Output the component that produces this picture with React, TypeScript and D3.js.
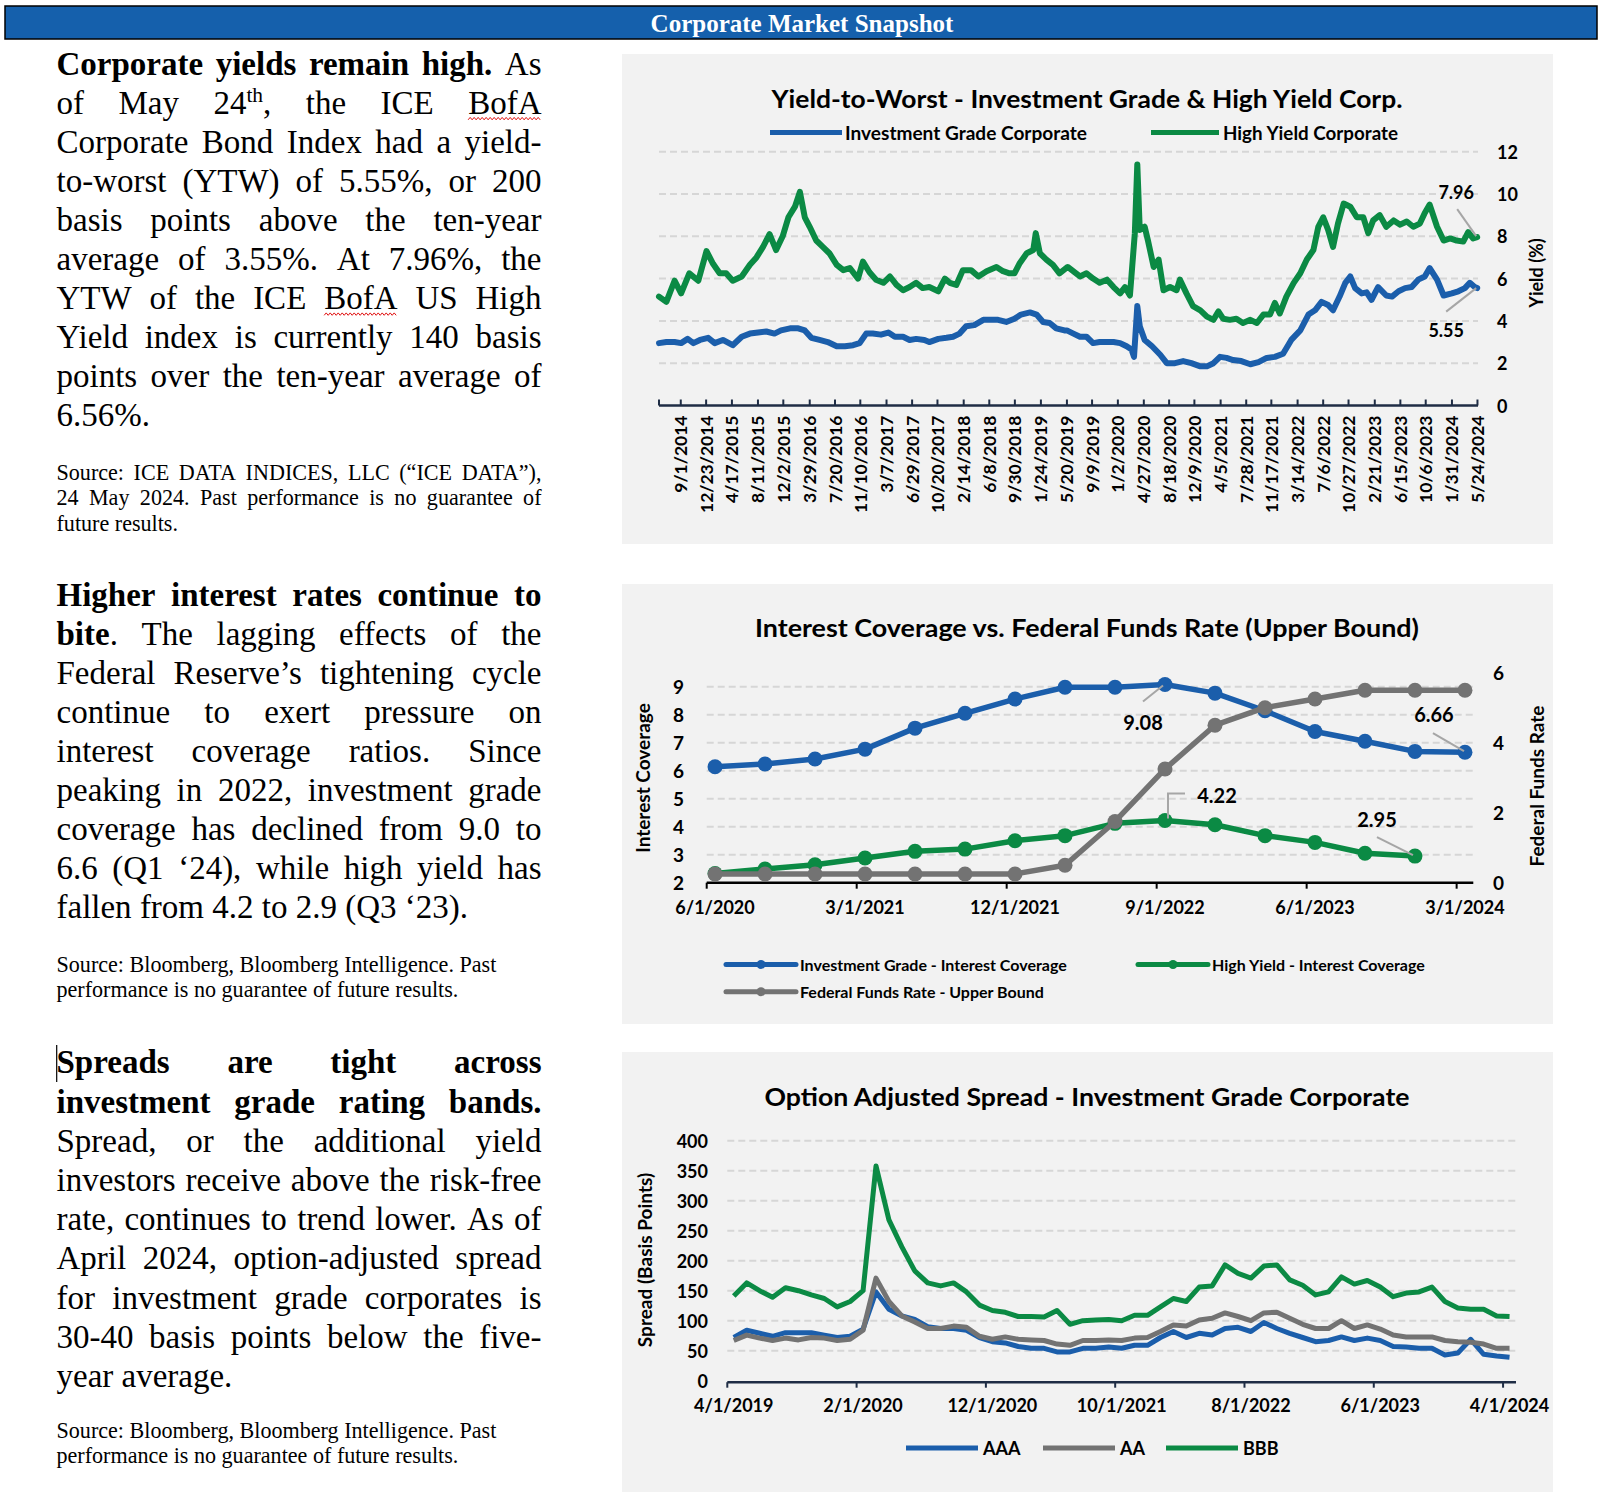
import React, { useEffect, useRef } from 'react';
import * as d3 from 'd3';

const WIDTH = 1600;
const HEIGHT = 1494;

const BLUE = '#1B5EAB';
const GREEN = '#0B8A44';
const GRAY = '#737373';
const GRID = '#D6D6D6';
const AXIS = '#1F2D45';
const PANEL = '#F2F2F2';
const LEADER = '#A6A6A6';
const SANS = 'Lato, "Open Sans", sans-serif';
const SERIF = '"Liberation Serif", "Times New Roman", serif';

// ---------- chart 1 : yield-to-worst (decimal years / percent)
const ytwTickLabels = ['9/1/2014', '12/23/2014', '4/17/2015', '8/11/2015', '12/2/2015', '3/29/2016', '7/20/2016', '11/10/2016', '3/7/2017', '6/29/2017', '10/20/2017', '2/14/2018', '6/8/2018', '9/30/2018', '1/24/2019', '5/20/2019', '9/9/2019', '1/2/2020', '4/27/2020', '8/18/2020', '12/9/2020', '4/5/2021', '7/28/2021', '11/17/2021', '3/14/2022', '7/6/2022', '10/27/2022', '2/21/2023', '6/15/2023', '10/6/2023', '1/31/2024', '5/24/2024'];
const ytwYTicks = [0, 2, 4, 6, 8, 10, 12];

const hyTime = [2014.40, 2014.49, 2014.59, 2014.67, 2014.77, 2014.88, 2014.98, 2015.06, 2015.14, 2015.22, 2015.30, 2015.41, 2015.51, 2015.59, 2015.67, 2015.75, 2015.83, 2015.91, 2015.98, 2016.06, 2016.12, 2016.18, 2016.24, 2016.32, 2016.40, 2016.48, 2016.57, 2016.65, 2016.73, 2016.83, 2016.89, 2016.97, 2017.05, 2017.14, 2017.22, 2017.30, 2017.38, 2017.46, 2017.54, 2017.62, 2017.70, 2017.81, 2017.89, 2017.95, 2018.03, 2018.11, 2018.21, 2018.30, 2018.40, 2018.52, 2018.60, 2018.68, 2018.74, 2018.80, 2018.89, 2018.97, 2019.00, 2019.05, 2019.13, 2019.21, 2019.29, 2019.39,
  2019.54, 2019.62, 2019.70, 2019.78, 2019.87, 2019.95, 2020.03, 2020.09, 2020.15, 2020.21, 2020.24, 2020.27, 2020.33, 2020.37, 2020.44, 2020.50, 2020.56, 2020.64, 2020.72, 2020.76, 2020.84, 2020.92, 2021.01, 2021.09, 2021.17, 2021.23, 2021.29, 2021.37, 2021.45, 2021.53, 2021.62, 2021.70, 2021.78, 2021.86, 2021.92, 2021.98, 2022.06, 2022.15, 2022.23, 2022.31, 2022.39, 2022.45, 2022.51, 2022.57, 2022.63, 2022.69, 2022.76, 2022.84, 2022.92, 2023.00, 2023.06, 2023.12, 2023.20, 2023.28, 2023.37, 2023.45, 2023.53, 2023.61, 2023.69, 2023.75, 2023.81, 2023.90, 2023.98, 2024.06, 2024.14, 2024.22, 2024.28, 2024.34, 2024.39];
const hyYield = [5.15, 4.9, 5.9, 5.3, 6.25, 5.9, 7.3, 6.7, 6.25, 6.25, 5.9, 6.1, 6.65, 7.0, 7.5, 8.1, 7.35, 8.0, 8.9, 9.4, 10.1, 8.9, 8.45, 7.8, 7.5, 7.2, 6.65, 6.4, 6.5, 6.0, 6.8, 6.3, 5.95, 5.8, 6.1, 5.7, 5.45, 5.6, 5.8, 5.55, 5.6, 5.4, 6.0, 5.8, 5.7, 6.4, 6.4, 6.1, 6.35, 6.55, 6.35, 6.25, 6.25, 6.7, 7.2, 7.35, 8.15, 7.2, 6.9, 6.65, 6.25, 6.55,
  6.1, 6.25, 6.0, 5.8, 5.95, 5.6, 5.3, 5.6, 5.2, 8.15, 11.4, 8.3, 8.45, 7.8, 6.55, 6.9, 5.45, 5.6, 5.45, 5.95, 5.3, 4.7, 4.5, 4.2, 4.05, 4.45, 4.1, 4.05, 4.1, 3.9, 4.05, 3.9, 4.3, 4.3, 4.85, 4.35, 5.15, 5.8, 6.25, 6.9, 7.35, 8.45, 8.9, 8.3, 7.5, 8.6, 9.55, 9.4, 8.9, 8.9, 8.15, 8.75, 9.0, 8.45, 8.75, 8.55, 8.7, 8.45, 8.6, 9.1, 9.5, 8.45, 7.8, 7.9, 7.8, 7.75, 8.2, 7.9, 7.96];

const igTime = [2014.40, 2014.49, 2014.59, 2014.67, 2014.75, 2014.82, 2014.90, 2015.00, 2015.08, 2015.18, 2015.30, 2015.41, 2015.51, 2015.61, 2015.71, 2015.81, 2015.89, 2016.00, 2016.10, 2016.18, 2016.26, 2016.36, 2016.46, 2016.57, 2016.67, 2016.77, 2016.85, 2016.93, 2017.01, 2017.11, 2017.20, 2017.28, 2017.38, 2017.46, 2017.54, 2017.64, 2017.70, 2017.81, 2017.91, 2017.99, 2018.07, 2018.15, 2018.25, 2018.36, 2018.44, 2018.54, 2018.64, 2018.74, 2018.82, 2018.93, 2019.01, 2019.09, 2019.17, 2019.25, 2019.35,
  2019.38, 2019.46, 2019.54, 2019.62, 2019.70, 2019.78, 2019.87, 2019.95, 2020.03, 2020.11, 2020.17, 2020.20, 2020.24, 2020.27, 2020.33, 2020.42, 2020.52, 2020.60, 2020.70, 2020.80, 2020.90, 2021.01, 2021.09, 2021.17, 2021.25, 2021.33, 2021.41, 2021.51, 2021.62, 2021.72, 2021.82, 2021.92, 2022.02, 2022.12, 2022.23, 2022.33, 2022.41, 2022.49, 2022.57, 2022.63, 2022.71, 2022.78, 2022.84, 2022.90, 2022.98, 2023.04, 2023.10, 2023.18, 2023.28, 2023.35, 2023.43, 2023.51, 2023.59, 2023.67, 2023.75, 2023.81, 2023.90, 2023.98, 2024.08, 2024.16, 2024.24, 2024.30, 2024.36, 2024.39];
const igYield = [2.95, 3.0, 3.0, 2.95, 3.15, 2.95, 3.1, 3.2, 2.95, 3.1, 2.85, 3.25, 3.4, 3.45, 3.5, 3.4, 3.55, 3.65, 3.65, 3.55, 3.2, 3.1, 3.0, 2.8, 2.8, 2.85, 2.95, 3.4, 3.4, 3.35, 3.45, 3.25, 3.25, 3.1, 3.15, 3.1, 3.0, 3.15, 3.2, 3.25, 3.4, 3.75, 3.8, 4.05, 4.05, 4.05, 3.95, 4.1, 4.3, 4.4, 4.3, 3.95, 3.9, 3.65, 3.55,
  3.55, 3.4, 3.25, 3.25, 2.95, 3.0, 3.0, 3.0, 2.95, 2.8, 2.65, 2.3, 4.7, 3.75, 3.1, 2.8, 2.4, 2.0, 2.0, 2.1, 2.0, 1.85, 1.85, 2.0, 2.3, 2.25, 2.15, 2.1, 1.95, 2.05, 2.25, 2.3, 2.45, 3.1, 3.55, 4.3, 4.5, 4.9, 4.75, 4.5, 5.15, 5.8, 6.1, 5.55, 5.3, 5.35, 5.0, 5.6, 5.2, 5.15, 5.4, 5.55, 5.6, 5.95, 6.1, 6.5, 5.95, 5.2, 5.3, 5.4, 5.55, 5.8, 5.6, 5.55];

// ---------- chart 2 : interest coverage vs fed funds (quarterly)
const coverageQuarters = ['2020-06', '2020-09', '2020-12', '2021-03', '2021-06', '2021-09', '2021-12', '2022-03', '2022-06', '2022-09', '2022-12', '2023-03', '2023-06', '2023-09', '2023-12', '2024-03'];
const igCoverage = [6.14, 6.24, 6.42, 6.77, 7.52, 8.05, 8.56, 8.98, 8.98, 9.08, 8.77, 8.14, 7.40, 7.05, 6.69, 6.66];
const hyCoverage = [2.33, 2.49, 2.64, 2.88, 3.12, 3.20, 3.50, 3.68, 4.12, 4.22, 4.07, 3.68, 3.44, 3.05, 2.95];
const fedFundsUpper = [0.25, 0.25, 0.25, 0.25, 0.25, 0.25, 0.25, 0.5, 1.75, 3.25, 4.5, 5.0, 5.25, 5.5, 5.5, 5.5];
const coverageTickLabels = ['6/1/2020', '3/1/2021', '12/1/2021', '9/1/2022', '6/1/2023', '3/1/2024'];
const coverageLeftTicks = [2, 3, 4, 5, 6, 7, 8, 9];
const coverageRightTicks = [0, 2, 4, 6];

// ---------- chart 3 : option adjusted spread (monthly, Apr 2019 - Apr 2024)
const oasStart = '2019-04';
const aaaSpread = [72, 84, 79, 74, 80, 80, 80, 76, 72, 74, 86, 148, 119, 108, 102, 90, 87, 87, 84, 72, 65, 63, 57, 54, 54, 48, 48, 54, 54, 56, 54, 59, 59, 72, 82, 72, 79, 76, 87, 89, 82, 97, 87, 79, 72, 65, 67, 73, 67, 71, 67, 57, 56, 54, 54, 43, 46, 69, 44, 41, 39];
const aaSpread = [67, 76, 71, 67, 71, 68, 72, 71, 67, 69, 84, 171, 132, 108, 98, 87, 87, 91, 89, 74, 69, 73, 69, 68, 67, 61, 59, 67, 67, 68, 67, 71, 72, 82, 93, 91, 101, 104, 113, 107, 100, 113, 114, 104, 94, 87, 87, 100, 87, 93, 86, 76, 73, 73, 73, 67, 65, 64, 61, 54, 54];
const bbbSpread = [141, 163, 150, 139, 155, 150, 143, 137, 123, 132, 150, 358, 268, 223, 183, 163, 158, 163, 148, 126, 117, 114, 107, 107, 106, 117, 94, 100, 101, 102, 100, 109, 109, 123, 137, 132, 156, 158, 193, 179, 171, 191, 193, 168, 159, 143, 148, 173, 161, 167, 156, 140, 146, 148, 156, 132, 121, 119, 119, 108, 107];
const oasTickLabels = ['4/1/2019', '2/1/2020', '12/1/2020', '10/1/2021', '8/1/2022', '6/1/2023', '4/1/2024'];
const oasYTicks = [0, 50, 100, 150, 200, 250, 300, 350, 400];

// ---------- text column
const p1Lines = [
  '**Corporate yields remain high.** As',
  'of May 24^th^, the ICE ~BofA~',
  'Corporate Bond Index had a yield-',
  'to-worst (YTW) of 5.55%, or 200',
  'basis points above the ten-year',
  'average of 3.55%. At 7.96%, the',
  'YTW of the ICE ~BofA~ US High',
  'Yield index is currently 140 basis',
  'points over the ten-year average of',
  '6.56%.',
];
const s1Lines = [
  'Source: ICE DATA INDICES, LLC (“ICE DATA”),',
  '24 May 2024. Past performance is no guarantee of',
  'future results.',
];
const p2Lines = [
  '**Higher interest rates continue to**',
  '**bite**. The lagging effects of the',
  'Federal Reserve’s tightening cycle',
  'continue to exert pressure on',
  'interest coverage ratios. Since',
  'peaking in 2022, investment grade',
  'coverage has declined from 9.0 to',
  '6.6 (Q1 ‘24), while high yield has',
  'fallen from 4.2 to 2.9 (Q3 ‘23).',
];
const s2Lines = [
  'Source: Bloomberg, Bloomberg Intelligence. Past',
  'performance is no guarantee of future results.',
];
const p3Lines = [
  '**Spreads are tight across**',
  '**investment grade rating bands.**',
  'Spread, or the additional yield',
  'investors receive above the risk-free',
  'rate, continues to trend lower. As of',
  'April 2024, option-adjusted spread',
  'for investment grade corporates is',
  '30-40 basis points below the five-',
  'year average.',
];
const s3Lines = s2Lines;

const textBlocks = [
  { lines: p1Lines, y: 74.5, lh: 39.1, size: 33, justify: true },
  { lines: s1Lines, y: 480, lh: 25.3, size: 22.1, justify: true },
  { lines: p2Lines, y: 606, lh: 39.05, size: 33, justify: true },
  { lines: s2Lines, y: 971.7, lh: 25, size: 22.1, justify: false },
  { lines: p3Lines, y: 1073.3, lh: 39.2, size: 33, justify: true },
  { lines: s3Lines, y: 1438.3, lh: 25, size: 22.1, justify: false },
];
const TEXT_X = 56.5;
const TEXT_W = 485;

type Seg = { text: string; bold: boolean; sup: boolean };
type Word = { segs: Seg[]; spell: boolean };

function parseLine(line: string): Word[] {
  const words: Word[] = [];
  let bold = false;
  let sup = false;
  let cur: Word = { segs: [], spell: false };
  let buf = '';
  const flush = () => {
    if (buf) { cur.segs.push({ text: buf, bold, sup }); buf = ''; }
  };
  const endWord = () => {
    flush();
    if (cur.segs.length) words.push(cur);
    cur = { segs: [], spell: false };
  };
  for (let i = 0; i < line.length; i++) {
    const c = line[i];
    if (c === '*' && line[i + 1] === '*') { flush(); bold = !bold; i++; continue; }
    if (c === '^') { flush(); sup = !sup; continue; }
    if (c === '~') { cur.spell = true; continue; }
    if (c === ' ') { endWord(); continue; }
    buf += c;
  }
  endWord();
  return words;
}

function decYear(label: string) {
  const [m, d, y] = label.split('/').map(Number);
  const s = Date.UTC(y, 0, 1);
  const e = Date.UTC(y + 1, 0, 1);
  return y + (Date.UTC(y, m - 1, d) - s) / (e - s);
}

function monthIdx(key: string, base: string) {
  const [y, m] = key.split('-').map(Number);
  const [by, bm] = base.split('-').map(Number);
  return (y - by) * 12 + (m - bm);
}

function labelMonth(label: string, base: string) {
  const [m, , y] = label.split('/').map(Number);
  return (y - Number(base.split('-')[0])) * 12 + (m - Number(base.split('-')[1]));
}

const App: React.FC = () => {
  const textRef = useRef<SVGGElement>(null);

  useEffect(() => {
    const draw = () => {
      if (!textRef.current) return;
      const g = d3.select(textRef.current);
      g.selectAll('*').remove();
      textBlocks.forEach(block => {
        block.lines.forEach((line, li) => {
          const y = block.y + li * block.lh;
          const words = parseLine(line);
          const placed = words.map(w => {
            const t = g.append('text')
              .attr('y', y)
              .attr('font-family', SERIF)
              .attr('font-size', block.size)
              .attr('fill', '#000');
            let raised = false;
            w.segs.forEach(s => {
              const ts = t.append('tspan').text(s.text).attr('font-weight', s.bold ? 'bold' : 'normal');
              if (s.sup) ts.attr('font-size', block.size * 0.65);
              if (s.sup && !raised) { ts.attr('dy', -block.size * 0.36); raised = true; }
              else if (!s.sup && raised) { ts.attr('dy', block.size * 0.36); raised = false; }
            });
            const width = (t.node() as SVGTextElement).getComputedTextLength();
            return { t, w, width };
          });
          const total = d3.sum(placed, p => p.width);
          const isLast = li === block.lines.length - 1;
          const gap = block.justify && !isLast && placed.length > 1
            ? (TEXT_W - total) / (placed.length - 1)
            : block.size * 0.25;
          let x = TEXT_X;
          placed.forEach(p => {
            p.t.attr('x', x);
            if (p.w.spell) {
              const pts: [number, number][] = [];
              for (let k = 0; k <= p.width; k += 2) pts.push([x + k, y + 5 + ((k / 2) % 2 ? -1.2 : 1.2)]);
              g.append('path')
                .attr('d', d3.line()(pts) || '')
                .attr('fill', 'none')
                .attr('stroke', '#E01010')
                .attr('stroke-width', 1);
            }
            x += p.width + gap;
          });
        });
      });
    };
    draw();
    const fonts = (document as any).fonts;
    if (fonts && fonts.ready) fonts.ready.then(draw);
  }, []);

  // chart 1 scales
  const x1 = d3.scaleLinear().domain([2014.40, 2024.40]).range([659, 1478]);
  const y1 = d3.scaleLinear().domain([0, 12]).range([405.5, 151.7]);
  const line1 = d3.line<[number, number]>().x(d => x1(d[0])).y(d => y1(d[1]));
  const hyPts = hyTime.map((t, i) => [t, hyYield[i]] as [number, number]);
  const igPts = igTime.map((t, i) => [t, igYield[i]] as [number, number]);
  const hyEnd = { x: x1(hyTime[hyTime.length - 1]), y: y1(hyYield[hyYield.length - 1]) };
  const igEnd = { x: x1(igTime[igTime.length - 1]), y: y1(igYield[igYield.length - 1]) };

  // chart 2 scales
  const x2 = d3.scaleLinear().domain([0, 46]).range([706.7, 1473.3]);
  const yL = d3.scaleLinear().domain([2, 9.5]).range([882.7, 672.7]);
  const yR = d3.scaleLinear().domain([0, 6]).range([882.7, 672.7]);
  const base2 = coverageQuarters[0];
  const qx = (i: number) => x2(monthIdx(coverageQuarters[i], base2) + 0.5);
  const lineL = d3.line<number>().x((_, i) => qx(i)).y(d => yL(d));
  const lineR = d3.line<number>().x((_, i) => qx(i)).y(d => yR(d));
  const igPeak = { x: qx(9), y: yL(igCoverage[9]) };
  const hyPeak = { x: qx(9), y: yL(hyCoverage[9]) };
  const hyLast = { x: qx(hyCoverage.length - 1), y: yL(hyCoverage[hyCoverage.length - 1]) };
  const igLast = { x: qx(igCoverage.length - 1), y: yL(igCoverage[igCoverage.length - 1]) };

  // chart 3 scales
  const x3 = d3.scaleLinear().domain([0, 61]).range([727.3, 1516]);
  const y3 = d3.scaleLinear().domain([0, 400]).range([1380.7, 1140.7]);
  const line3 = d3.line<number>().x((_, i) => x3(i + 0.5)).y(d => y3(d));

  const gridProps = { stroke: GRID, strokeWidth: 2, strokeDasharray: '7 4' };
  const tickFont = { fontFamily: SANS, fontWeight: 700, fill: '#000' } as const;

  return (
    <svg
      width={WIDTH}
      height={HEIGHT}
      viewBox={`0 0 ${WIDTH} ${HEIGHT}`}
      style={{ position: 'absolute', left: 0, top: 0, display: 'block', background: '#fff' }}
    >
      {/* header */}
      <rect x={5} y={6} width={1592} height={33} fill="#1560AC" stroke="#000" strokeWidth={1.5} />
      <text x={802} y={23} textAnchor="middle" dominantBaseline="central" fontFamily={SERIF} fontWeight="bold" fontSize={25} fill="#fff">
        Corporate Market Snapshot
      </text>

      {/* text column */}
      <g ref={textRef} />
      <line x1={56.7} x2={56.7} y1={1045} y2={1082} stroke="#000" strokeWidth={1.2} />

      {/* ---------------- chart 1 ---------------- */}
      <rect x={622} y={54} width={931} height={490} fill={PANEL} />
      <text x={1087} y={98} textAnchor="middle" dominantBaseline="central" fontFamily={SANS} fontWeight={700} fontSize={24} textLength={631} lengthAdjust="spacingAndGlyphs">
        Yield-to-Worst - Investment Grade &amp; High Yield Corp.
      </text>
      <line x1={770} x2={842} y1={132.6} y2={132.6} stroke={BLUE} strokeWidth={5} />
      <text x={845} y={132.6} dominantBaseline="central" {...tickFont} fontSize={18} textLength={242} lengthAdjust="spacingAndGlyphs">Investment Grade Corporate</text>
      <line x1={1151} x2={1219} y1={132.6} y2={132.6} stroke={GREEN} strokeWidth={5} />
      <text x={1223} y={132.6} dominantBaseline="central" {...tickFont} fontSize={18} textLength={175} lengthAdjust="spacingAndGlyphs">High Yield Corporate</text>

      {ytwYTicks.filter(v => v > 0).map(v => (
        <line key={v} x1={x1.range()[0]} x2={x1.range()[1]} y1={y1(v)} y2={y1(v)} {...gridProps} />
      ))}
      {ytwYTicks.map(v => (
        <text key={v} x={1497} y={y1(v)} dominantBaseline="central" {...tickFont} fontSize={18}>{v}</text>
      ))}
      <text transform={`translate(1536,273) rotate(-90)`} textAnchor="middle" dominantBaseline="central" {...tickFont} fontSize={18}>Yield (%)</text>

      <path d={line1(igPts) || ''} fill="none" stroke={BLUE} strokeWidth={6} strokeLinejoin="round" strokeLinecap="round" />
      <path d={line1(hyPts) || ''} fill="none" stroke={GREEN} strokeWidth={6} strokeLinejoin="round" strokeLinecap="round" />

      <line x1={x1.range()[0]} x2={x1.range()[1]} y1={y1(0)} y2={y1(0)} stroke={AXIS} strokeWidth={2.5} />
      <line x1={x1.range()[0]} x2={x1.range()[0]} y1={y1(0) - 6} y2={y1(0)} stroke={AXIS} strokeWidth={2} />
      {ytwTickLabels.map(l => {
        const x = x1(decYear(l));
        return (
          <g key={l}>
            <line x1={x} x2={x} y1={y1(0) - 6} y2={y1(0)} stroke={AXIS} strokeWidth={2} />
            <text transform={`translate(${x},${y1(0) + 10}) rotate(-90)`} textAnchor="end" dominantBaseline="central" {...tickFont} fontSize={17.5}>{l}</text>
          </g>
        );
      })}

      <line x1={hyEnd.x - 20} y1={hyEnd.y - 28} x2={hyEnd.x - 1} y2={hyEnd.y - 1} stroke={LEADER} strokeWidth={2} />
      <text x={hyEnd.x - 21} y={hyEnd.y - 45} textAnchor="middle" dominantBaseline="central" {...tickFont} fontSize={18}>{hyYield[hyYield.length - 1].toFixed(2)}</text>
      <line x1={igEnd.x - 31} y1={igEnd.y + 23.5} x2={igEnd.x - 1} y2={igEnd.y} stroke={LEADER} strokeWidth={2} />
      <text x={igEnd.x - 31} y={igEnd.y + 42} textAnchor="middle" dominantBaseline="central" {...tickFont} fontSize={18}>{igYield[igYield.length - 1].toFixed(2)}</text>

      {/* ---------------- chart 2 ---------------- */}
      <rect x={622} y={584} width={931} height={440} fill={PANEL} />
      <text x={1087} y={627.5} textAnchor="middle" dominantBaseline="central" fontFamily={SANS} fontWeight={700} fontSize={24} textLength={664} lengthAdjust="spacingAndGlyphs">
        Interest Coverage vs. Federal Funds Rate (Upper Bound)
      </text>
      {coverageLeftTicks.filter(v => v > 2).map(v => (
        <line key={v} x1={x2.range()[0]} x2={x2.range()[1]} y1={yL(v)} y2={yL(v)} {...gridProps} />
      ))}
      {coverageLeftTicks.map(v => (
        <text key={v} x={684} y={yL(v)} textAnchor="end" dominantBaseline="central" {...tickFont} fontSize={19}>{v}</text>
      ))}
      {coverageRightTicks.map(v => (
        <text key={v} x={1493} y={yR(v)} dominantBaseline="central" {...tickFont} fontSize={19}>{v}</text>
      ))}
      <text transform={`translate(642,778) rotate(-90)`} textAnchor="middle" dominantBaseline="central" {...tickFont} fontSize={19}>Interest Coverage</text>
      <text transform={`translate(1536,786) rotate(-90)`} textAnchor="middle" dominantBaseline="central" {...tickFont} fontSize={19}>Federal Funds Rate</text>

      <line x1={x2.range()[0]} x2={x2.range()[1]} y1={yL(2)} y2={yL(2)} stroke="#000" strokeWidth={2.5} />
      {coverageTickLabels.map(l => {
        const m = labelMonth(l, base2);
        return (
          <g key={l}>
            <line x1={x2(m)} x2={x2(m)} y1={yL(2)} y2={yL(2) + 6} stroke="#000" strokeWidth={2} />
            <text x={x2(m + 0.5)} y={907} textAnchor="middle" dominantBaseline="central" {...tickFont} fontSize={18}>{l}</text>
          </g>
        );
      })}

      <path d={lineL(igCoverage) || ''} fill="none" stroke={BLUE} strokeWidth={5.5} strokeLinejoin="round" />
      {igCoverage.map((v, i) => <circle key={i} cx={qx(i)} cy={yL(v)} r={7.5} fill={BLUE} />)}
      <path d={lineL(hyCoverage) || ''} fill="none" stroke={GREEN} strokeWidth={5.5} strokeLinejoin="round" />
      {hyCoverage.map((v, i) => <circle key={i} cx={qx(i)} cy={yL(v)} r={7.5} fill={GREEN} />)}
      <path d={lineR(fedFundsUpper) || ''} fill="none" stroke={GRAY} strokeWidth={5.5} strokeLinejoin="round" />
      {fedFundsUpper.map((v, i) => <circle key={i} cx={qx(i)} cy={yR(v)} r={7.5} fill={GRAY} />)}

      <line x1={igPeak.x - 22} y1={igPeak.y + 17} x2={igPeak.x - 2} y2={igPeak.y + 1} stroke={LEADER} strokeWidth={2} />
      <text x={igPeak.x - 22} y={igPeak.y + 37.5} textAnchor="middle" dominantBaseline="central" {...tickFont} fontSize={20}>{igCoverage[9].toFixed(2)}</text>
      <polyline points={`${hyPeak.x + 3},${hyPeak.y - 2} ${hyPeak.x + 3},${hyPeak.y - 27} ${hyPeak.x + 20},${hyPeak.y - 27}`} fill="none" stroke={LEADER} strokeWidth={2} />
      <text x={hyPeak.x + 52} y={hyPeak.y - 26} textAnchor="middle" dominantBaseline="central" {...tickFont} fontSize={20}>{hyCoverage[9].toFixed(2)}</text>
      <line x1={hyLast.x - 38} y1={hyLast.y - 19} x2={hyLast.x - 2} y2={hyLast.y - 1} stroke={LEADER} strokeWidth={2} />
      <text x={hyLast.x - 38} y={hyLast.y - 37} textAnchor="middle" dominantBaseline="central" {...tickFont} fontSize={20}>{hyCoverage[hyCoverage.length - 1].toFixed(2)}</text>
      <line x1={igLast.x - 32} y1={igLast.y - 19} x2={igLast.x - 1} y2={igLast.y - 1} stroke={LEADER} strokeWidth={2} />
      <text x={igLast.x - 31} y={igLast.y - 38} textAnchor="middle" dominantBaseline="central" {...tickFont} fontSize={20}>{igCoverage[igCoverage.length - 1].toFixed(2)}</text>

      {[
        { label: 'Investment Grade - Interest Coverage', color: BLUE, x: 726, y: 964.5 },
        { label: 'High Yield - Interest Coverage', color: GREEN, x: 1138, y: 964.5 },
        { label: 'Federal Funds Rate - Upper Bound', color: GRAY, x: 726, y: 991.7 },
      ].map(e => (
        <g key={e.label}>
          <line x1={e.x} x2={e.x + 70} y1={e.y} y2={e.y} stroke={e.color} strokeWidth={5} strokeLinecap="round" />
          <circle cx={e.x + 35} cy={e.y} r={4.5} fill={e.color} />
          <text x={e.x + 74} y={e.y} dominantBaseline="central" {...tickFont} fontSize={16}>{e.label}</text>
        </g>
      ))}

      {/* ---------------- chart 3 ---------------- */}
      <rect x={622} y={1052} width={931} height={440} fill={PANEL} />
      <text x={1087} y={1096} textAnchor="middle" dominantBaseline="central" fontFamily={SANS} fontWeight={700} fontSize={24} textLength={645} lengthAdjust="spacingAndGlyphs">
        Option Adjusted Spread - Investment Grade Corporate
      </text>
      {oasYTicks.filter(v => v > 0).map(v => (
        <line key={v} x1={x3.range()[0]} x2={x3.range()[1]} y1={y3(v)} y2={y3(v)} {...gridProps} />
      ))}
      {oasYTicks.map(v => (
        <text key={v} x={708} y={y3(v)} textAnchor="end" dominantBaseline="central" {...tickFont} fontSize={18}>{v}</text>
      ))}
      <text transform={`translate(644.5,1260) rotate(-90)`} textAnchor="middle" dominantBaseline="central" {...tickFont} fontSize={19}>Spread (Basis Points)</text>

      <path d={line3(aaaSpread) || ''} fill="none" stroke={BLUE} strokeWidth={5} strokeLinejoin="round" />
      <path d={line3(aaSpread) || ''} fill="none" stroke={GRAY} strokeWidth={5} strokeLinejoin="round" />
      <path d={line3(bbbSpread) || ''} fill="none" stroke={GREEN} strokeWidth={5} strokeLinejoin="round" />

      <line x1={x3.range()[0]} x2={x3.range()[1]} y1={y3(0) + 1.5} y2={y3(0) + 1.5} stroke={AXIS} strokeWidth={2.5} />
      {oasTickLabels.map(l => {
        const m = labelMonth(l, oasStart);
        return (
          <g key={l}>
            <line x1={x3(m)} x2={x3(m)} y1={y3(0) + 1.5} y2={y3(0) + 7} stroke={AXIS} strokeWidth={2} />
            <text x={x3(m + 0.5)} y={1405} textAnchor="middle" dominantBaseline="central" {...tickFont} fontSize={18}>{l}</text>
          </g>
        );
      })}

      {[
        { label: 'AAA', color: BLUE, x: 906 },
        { label: 'AA', color: GRAY, x: 1043 },
        { label: 'BBB', color: GREEN, x: 1166 },
      ].map(e => (
        <g key={e.label}>
          <line x1={e.x} x2={e.x + 72} y1={1448} y2={1448} stroke={e.color} strokeWidth={5} />
          <text x={e.x + 77} y={1448} dominantBaseline="central" {...tickFont} fontSize={18}>{e.label}</text>
        </g>
      ))}
    </svg>
  );
};

export default App;
